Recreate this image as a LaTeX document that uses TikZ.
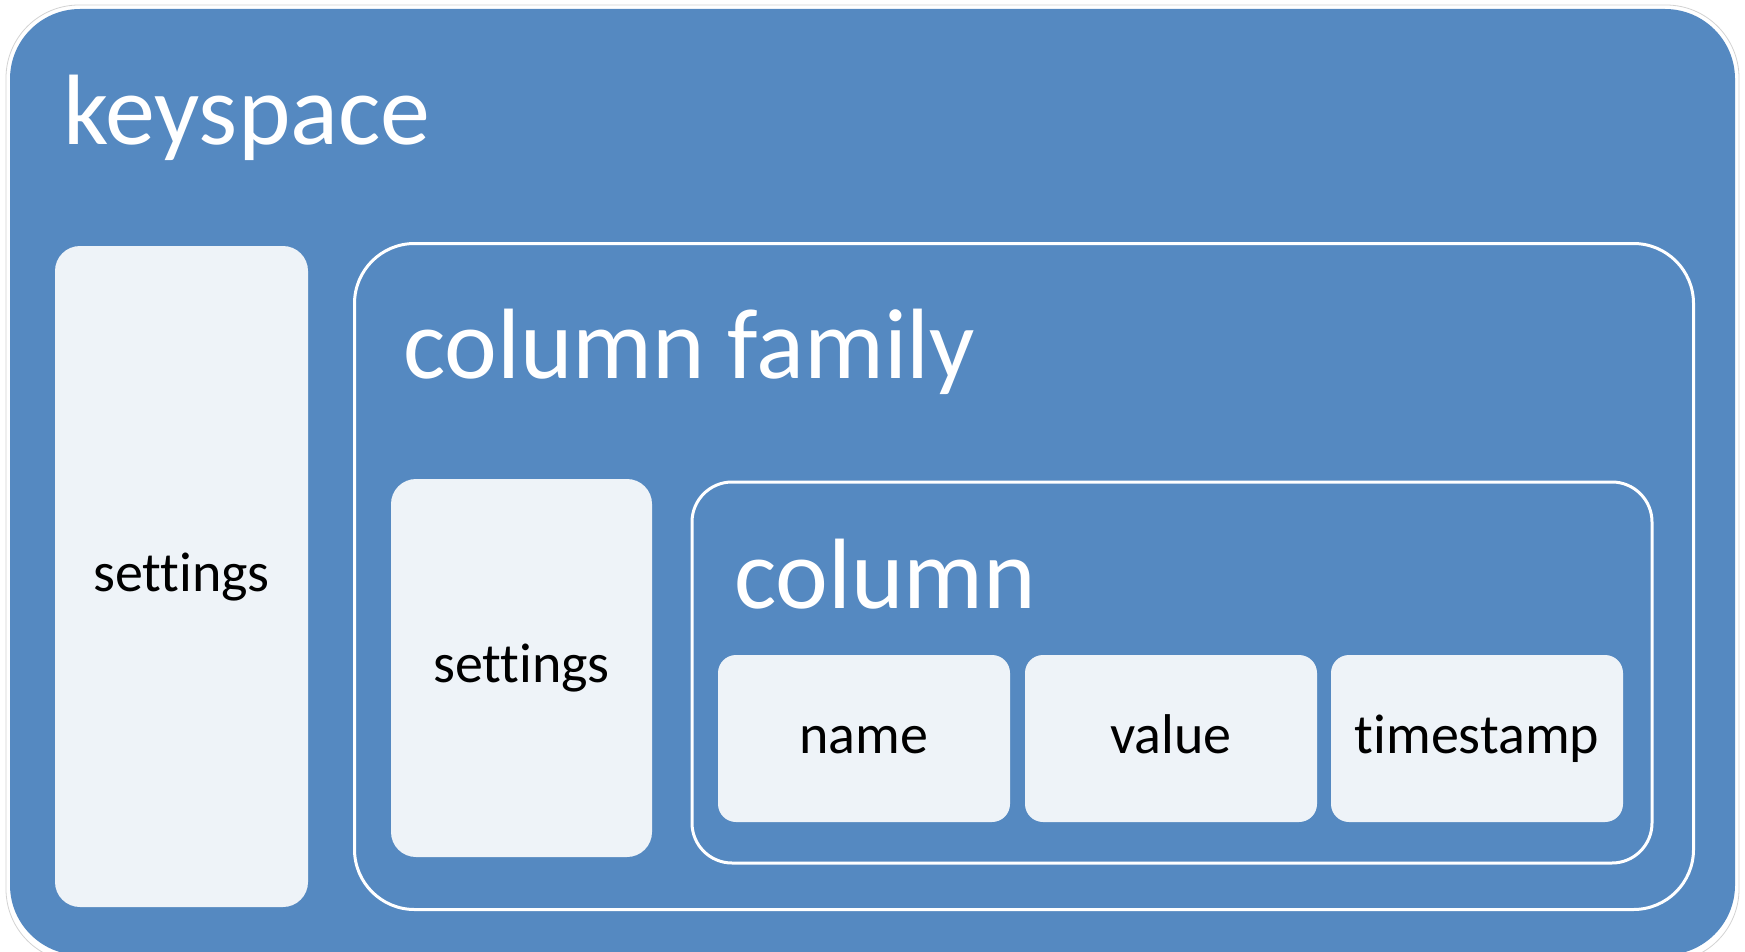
\documentclass[tikz,border=0pt]{standalone}
\usepackage{fontspec}
\setmainfont{Carlito}[Ligatures=NoCommon]
\definecolor{cblue}{RGB}{85,137,193}
\definecolor{clight}{RGB}{238,243,248}
\begin{document}
\begin{tikzpicture}[x=1pt,y=-1pt,
  plain/.style={inner sep=0pt, outer sep=0pt},
  outerbox/.style={plain, fill=cblue, draw=none},
  framebox/.style={plain, fill=cblue, draw=white, line width=3pt},
  tile/.style={plain, fill=clight, draw=none, text=black,
    text height=40pt, text depth=11pt,
    font=\fontsize{56}{62}\selectfont},
  heading/.style={plain, anchor=base west, text=white,
    font=\fontsize{100}{110}\selectfont}]
  \useasboundingbox (0,0) rectangle (1745,952);

  % faint edge round the keyspace panel
  \draw[gray!35, line width=0.8pt, rounded corners=73pt] (6,5) rectangle (1739,962);

  % keyspace
  \node[outerbox, minimum width=1725pt, minimum height=946pt, rounded corners=70pt]
    (keyspace) at (872.5,482) {};
  \node[heading] (kstitle) at (63,145) {keyspace};
  \node[tile, minimum width=253pt, minimum height=661pt, rounded corners=25pt]
    (kssettings) at (181.5,576.5) {settings};

  % column family
  \node[framebox, minimum width=1339pt, minimum height=666pt, rounded corners=60pt]
    (cf) at (1024,576.5) {};
  \node[heading] (cftitle) at (403,378) {column family};
  \node[tile, minimum width=261pt, minimum height=378pt, rounded corners=25pt]
    (cfsettings) at (521.5,668) {settings};

  % column
  \node[framebox, minimum width=960pt, minimum height=381pt, rounded corners=40pt]
    (col) at (1172,672.5) {};
  \node[heading] (coltitle) at (734,608) {column};
  \node[tile, minimum width=292pt, minimum height=167pt, rounded corners=18pt]
    (name) at (864,738.5) {name};
  \node[tile, minimum width=292pt, minimum height=167pt, rounded corners=18pt]
    (value) at (1171,738.5) {value};
  \node[tile, minimum width=292pt, minimum height=167pt, rounded corners=18pt]
    (timestamp) at (1477,738.5) {timestamp};
\end{tikzpicture}
\end{document}
